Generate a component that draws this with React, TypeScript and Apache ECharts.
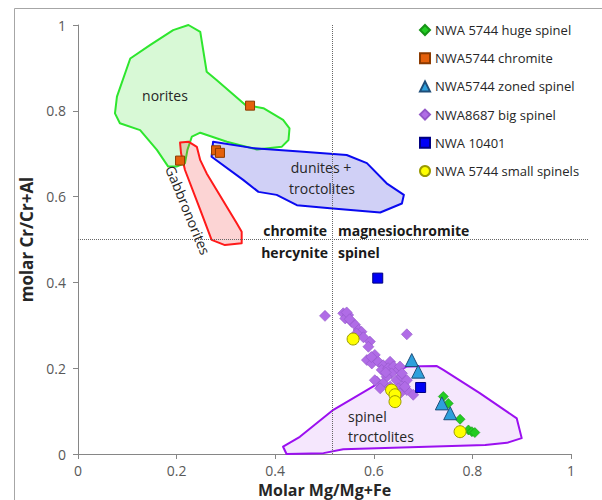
import React, { useEffect, useRef } from "react";
import * as echarts from "echarts";

// Field outlines (Mg/(Mg+Fe), Cr/(Cr+Al))
const noritesField: number[][] = [
  [0.224, 1.0], [0.248, 0.984], [0.261, 0.891], [0.281, 0.872], [0.339, 0.814], [0.376, 0.806],
  [0.416, 0.779], [0.429, 0.759], [0.427, 0.732], [0.413, 0.716], [0.363, 0.710], [0.302, 0.728],
  [0.248, 0.749], [0.231, 0.740], [0.222, 0.709], [0.217, 0.678], [0.200, 0.670], [0.183, 0.670],
  [0.160, 0.709], [0.126, 0.755], [0.085, 0.771], [0.075, 0.794], [0.079, 0.833], [0.106, 0.922],
  [0.146, 0.953], [0.193, 0.988],
];
const gabbronoritesField: number[][] = [
  [0.207, 0.726], [0.224, 0.728], [0.241, 0.716], [0.248, 0.685], [0.261, 0.654], [0.322, 0.538],
  [0.332, 0.518], [0.332, 0.491], [0.298, 0.487], [0.271, 0.499], [0.248, 0.569], [0.217, 0.662],
  [0.209, 0.701],
];
const dunitesField: number[][] = [
  [0.274, 0.728], [0.356, 0.713], [0.450, 0.705], [0.545, 0.697], [0.586, 0.678], [0.626, 0.631],
  [0.661, 0.604], [0.657, 0.584], [0.613, 0.563], [0.511, 0.573], [0.444, 0.580], [0.403, 0.604],
  [0.366, 0.611], [0.335, 0.639], [0.271, 0.693],
];
const spinelTroctolitesField: number[][] = [
  [0.416, 0.017], [0.450, 0.040], [0.518, 0.103], [0.586, 0.149], [0.667, 0.204], [0.728, 0.205],
  [0.741, 0.196], [0.815, 0.142], [0.890, 0.083], [0.900, 0.037], [0.870, 0.026], [0.826, 0.021],
  [0.538, 0.011], [0.498, 0.002], [0.423, 0.0],
];

// Data series
const hugeSpinel: number[][] = [
  [0.741, 0.134], [0.751, 0.118], [0.775, 0.081], [0.792, 0.056], [0.799, 0.052], [0.805, 0.050],
];
const chromite: number[][] = [
  [0.349, 0.812], [0.207, 0.684], [0.280, 0.708], [0.288, 0.702],
];
const zonedSpinel: number[][] = [
  [0.677, 0.219], [0.690, 0.192], [0.738, 0.118], [0.755, 0.095],
];
const bigSpinel: number[][] = [
  [0.501, 0.322], [0.538, 0.328], [0.548, 0.324], [0.542, 0.316], [0.555, 0.308], [0.562, 0.301],
  [0.569, 0.289], [0.575, 0.285], [0.565, 0.281], [0.667, 0.279], [0.592, 0.262], [0.589, 0.250],
  [0.602, 0.231], [0.586, 0.219], [0.596, 0.211], [0.609, 0.215], [0.619, 0.207], [0.633, 0.215],
  [0.616, 0.196], [0.629, 0.200], [0.640, 0.204], [0.650, 0.196], [0.636, 0.188], [0.626, 0.180],
  [0.606, 0.169], [0.619, 0.165], [0.646, 0.172], [0.657, 0.180], [0.660, 0.161], [0.650, 0.153],
  [0.633, 0.157], [0.667, 0.149], [0.653, 0.141], [0.640, 0.145], [0.680, 0.138], [0.613, 0.153],
  [0.602, 0.172], [0.653, 0.204], [0.657, 0.188], [0.667, 0.172], [0.663, 0.157], [0.545, 0.330],
  [0.551, 0.314], [0.579, 0.272], [0.595, 0.226], [0.624, 0.190],
];
const nwa10401: number[][] = [
  [0.608, 0.41], [0.695, 0.155],
];
const smallSpinels: number[][] = [
  [0.558, 0.268], [0.636, 0.149], [0.643, 0.138], [0.643, 0.122], [0.775, 0.052],
];

const xTicks = [0, 0.2, 0.4, 0.6, 0.8, 1];
const yTicks = [0, 0.2, 0.4, 0.6, 0.8, 1];
const boundaryMg = 0.515;
const boundaryCr = 0.5;

const FONT = "Open Sans";

function polygonSeries(data: number[][], stroke: string, fill: string) {
  return {
    type: "custom",
    silent: true,
    clip: false,
    z: 1,
    data,
    encode: { x: 0, y: 1 },
    renderItem: (params: any, api: any) => {
      if (params.dataIndex !== 0) return null;
      const points = data.map((p) => api.coord(p));
      return {
        type: "polygon",
        shape: { points },
        style: { fill, stroke, lineWidth: 2, lineJoin: "round" },
      };
    },
  };
}

export default function App() {
  const ref = useRef<HTMLDivElement>(null);
  useEffect(() => {
    if (!ref.current) return;
    const chart = echarts.init(ref.current, undefined, { renderer: "svg" });
    const axisLine = { lineStyle: { color: "#868686", width: 1 } };
    const option: any = {
      animation: false,
      backgroundColor: "#ffffff",
      textStyle: { fontFamily: FONT },
      grid: { left: 78, right: 31, top: 25, bottom: 46, containLabel: false, outerBoundsMode: "none" },
      xAxis: {
        type: "value",
        min: xTicks[0],
        max: xTicks[xTicks.length - 1],
        interval: 0.2,
        splitLine: { show: false },
        axisLine: { show: true, ...axisLine },
        axisTick: { show: true, length: 5, inside: false, lineStyle: { color: "#868686" } },
        axisLabel: { color: "#595959", fontSize: 14, fontFamily: FONT, margin: 9 },
        name: "Molar Mg/Mg+Fe",
        nameLocation: "middle",
        nameGap: 26,
        nameTextStyle: { fontWeight: "bold", fontSize: 16, color: "#262626", fontFamily: FONT },
      },
      yAxis: {
        type: "value",
        min: yTicks[0],
        max: yTicks[yTicks.length - 1],
        interval: 0.2,
        splitLine: { show: false },
        axisLine: { show: true, ...axisLine },
        axisTick: { show: true, length: 5, inside: false, lineStyle: { color: "#868686" } },
        axisLabel: { color: "#595959", fontSize: 14, fontFamily: FONT, margin: 12 },
        name: "molar Cr/Cr+Al",
        nameLocation: "middle",
        nameGap: 30,
        nameTextStyle: { fontWeight: "bold", fontSize: 17, color: "#262626", fontFamily: FONT },
      },
      legend: {
        orient: "vertical",
        left: 414,
        top: 18,
        itemWidth: 10,
        itemHeight: 10,
        itemGap: 14.2,
        textStyle: { fontSize: 13, color: "#262626", fontFamily: FONT, lineHeight: 14 },
        data: [
          "NWA 5744 huge spinel",
          "NWA5744 chromite",
          "NWA5744 zoned spinel",
          "NWA8687 big spinel",
          "NWA 10401",
          "NWA 5744 small spinels",
        ],
      },
      graphic: [
        {
          type: "rect",
          silent: true,
          shape: { x: 14.5, y: 8.5, width: 620, height: 520 },
          style: { fill: "none", stroke: "#A6A6A6", lineWidth: 1 },
          z: -10,
        },
        {
          type: "line",
          silent: true,
          shape: { x1: 571, y1: 239.5, x2: 589, y2: 239.5 },
          style: { stroke: "#666666", lineWidth: 1, lineDash: [1, 1] },
          z: 2,
        },
        { type: "text", x: 165, y: 95, style: { text: "norites", font: `14px '${FONT}'`, fill: "#262626", textAlign: "center", textVerticalAlign: "middle" }, z: 5 },
        { type: "text", x: 321, y: 167, style: { text: "dunites +", font: `14px '${FONT}'`, fill: "#262626", textAlign: "center", textVerticalAlign: "middle" }, z: 5 },
        { type: "text", x: 322, y: 188, style: { text: "troctolites", font: `14px '${FONT}'`, fill: "#262626", textAlign: "center", textVerticalAlign: "middle" }, z: 5 },
        { type: "text", x: 348, y: 416, style: { text: "spinel", font: `14px '${FONT}'`, fill: "#262626", textAlign: "left", textVerticalAlign: "middle" }, z: 5 },
        { type: "text", x: 348, y: 436, style: { text: "troctolites", font: `14px '${FONT}'`, fill: "#262626", textAlign: "left", textVerticalAlign: "middle" }, z: 5 },
        { type: "text", x: 188, y: 210, rotation: (-67.6 * Math.PI) / 180, style: { text: "Gabbronorites", font: `14px '${FONT}'`, fill: "#262626", textAlign: "center", textVerticalAlign: "middle" }, z: 5 },
        { type: "text", x: 327, y: 230, style: { text: "chromite", font: `bold 14px '${FONT}'`, fill: "#1a1a1a", textAlign: "right", textVerticalAlign: "middle" }, z: 5 },
        { type: "text", x: 328, y: 252, style: { text: "hercynite", font: `bold 14px '${FONT}'`, fill: "#1a1a1a", textAlign: "right", textVerticalAlign: "middle" }, z: 5 },
        { type: "text", x: 338, y: 230, style: { text: "magnesiochromite", font: `bold 14px '${FONT}'`, fill: "#1a1a1a", textAlign: "left", textVerticalAlign: "middle" }, z: 5 },
        { type: "text", x: 338, y: 252, style: { text: "spinel", font: `bold 14px '${FONT}'`, fill: "#1a1a1a", textAlign: "left", textVerticalAlign: "middle" }, z: 5 },
      ],
      series: [
        polygonSeries(noritesField, "#2EE62E", "rgba(60,225,50,0.2)"),
        polygonSeries(gabbronoritesField, "#FF1A1A", "rgba(240,40,40,0.2)"),
        polygonSeries(dunitesField, "#0A0AF0", "rgba(40,40,215,0.22)"),
        polygonSeries(spinelTroctolitesField, "#9B10F0", "rgba(160,40,240,0.11)"),
        {
          type: "custom",
          silent: true,
          clip: false,
          z: 2,
          data: [],
          renderItem: () => null,
          markLine: {
            silent: true,
            symbol: "none",
            label: { show: false },
            lineStyle: { type: [1, 1], color: "#666666", width: 1 },
            data: [
              [{ coord: [boundaryMg, 0] }, { coord: [boundaryMg, 1] }],
              [{ coord: [0, boundaryCr] }, { coord: [1, boundaryCr] }],
            ],
          },
        },
        {
          name: "NWA8687 big spinel",
          type: "scatter",
          z: 3,
          data: bigSpinel,
          symbol: "diamond",
          symbolSize: 11,
          itemStyle: { color: "#B06CE6", borderColor: "#9257C8", borderWidth: 0.6, opacity: 1 },
        },
        {
          name: "NWA 5744 huge spinel",
          type: "scatter",
          z: 4,
          data: hugeSpinel,
          symbol: "diamond",
          symbolSize: 10,
          itemStyle: { color: "#22CC22", borderColor: "#169416", borderWidth: 0.6, opacity: 1 },
        },
        {
          name: "NWA5744 chromite",
          type: "scatter",
          z: 4,
          data: chromite,
          symbol: "rect",
          symbolSize: 9,
          itemStyle: { color: "#E4600C", borderColor: "#8B3A00", borderWidth: 1, opacity: 1 },
        },
        {
          name: "NWA5744 zoned spinel",
          type: "scatter",
          z: 4,
          data: zonedSpinel,
          symbol: "triangle",
          symbolSize: 13,
          itemStyle: { color: "#2EA0DC", borderColor: "#1F4E79", borderWidth: 1, opacity: 1 },
        },
        {
          name: "NWA 10401",
          type: "scatter",
          z: 4,
          data: nwa10401,
          symbol: "rect",
          symbolSize: 10,
          itemStyle: { color: "#0000F5", borderColor: "#000080", borderWidth: 1, opacity: 1 },
        },
        {
          name: "NWA 5744 small spinels",
          type: "scatter",
          z: 4,
          data: smallSpinels,
          symbol: "circle",
          symbolSize: 12,
          itemStyle: { color: "#FFFF00", borderColor: "#9A9A00", borderWidth: 1, opacity: 1 },
        },
      ],
    };
    chart.setOption(option);
    return () => chart.dispose();
  }, []);
  return (
    <div
      ref={ref}
      style={{ position: "fixed", left: 0, top: 0, width: 602, height: 500 }}
    />
  );
}
